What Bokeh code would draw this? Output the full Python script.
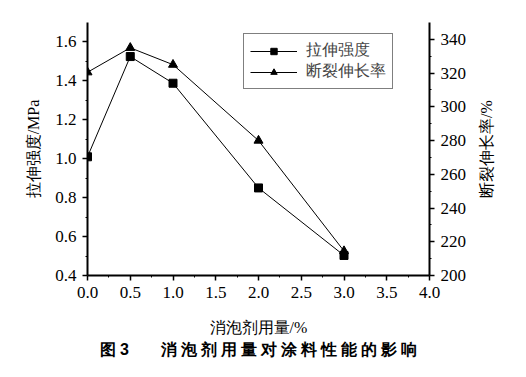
from bokeh.plotting import figure
from bokeh.layouts import row
from bokeh.models import Range1d, LinearAxis, FixedTicker, Title, Legend, LegendItem
from bokeh.embed import file_html
from bokeh.resources import INLINE

dosage = [0.0, 0.5, 1.0, 2.0, 3.0]
tensile = [1.01, 1.525, 1.388, 0.85, 0.503]
elongation = [320.5, 335.0, 325.0, 280.0, 214.5]

x_ticks = [0.0, 0.5, 1.0, 1.5, 2.0, 2.5, 3.0, 3.5, 4.0]
left_ticks = [0.4, 0.6, 0.8, 1.0, 1.2, 1.4, 1.6]
right_ticks = [200, 220, 240, 260, 280, 300, 320, 340]

NUM = "serif"
SERIF = "serif"

p = figure(width=470, height=372, output_backend="svg", toolbar_location=None,
           x_range=Range1d(0, 4.0), y_range=Range1d(0.4, 1.7),
           min_border_left=87, min_border_right=41, min_border_top=22,
           min_border_bottom=97)
p.outline_line_color = None
p.grid.grid_line_color = None
p.background_fill_color = "white"
p.border_fill_color = "white"

p.extra_y_ranges = {"right": Range1d(200, 350)}
raxis = LinearAxis(y_range_name="right")
p.add_layout(raxis, "right")

for ax, ticks in ((p.xaxis[0], x_ticks), (p.yaxis[0], left_ticks), (raxis, right_ticks)):
    ax.ticker = FixedTicker(ticks=ticks,
                            minor_ticks=[t + (ticks[1] - ticks[0]) / 2 for t in ticks[:-1]])
    ax.axis_line_width = 2
    ax.axis_line_color = "black"
    ax.major_tick_out = 5
    ax.major_tick_in = 0
    ax.minor_tick_out = 2
    ax.minor_tick_in = 0
    ax.major_tick_line_width = 1.5
    ax.major_label_text_font = NUM
    ax.major_label_text_font_size = "17px"
    ax.major_label_text_color = "black"
    ax.major_label_standoff = 6
    ax.axis_label_text_font = SERIF
    ax.axis_label_text_font_style = "normal"
    ax.axis_label_text_color = "black"
    ax.axis_label_text_font_size = "16px"

p.xaxis[0].major_label_overrides = {t: f"{t:.1f}" for t in x_ticks}
p.yaxis[0].major_label_overrides = {t: f"{t:.1f}" for t in left_ticks}

p.xaxis[0].axis_label = "消泡剂用量/%"
p.xaxis[0].axis_label_standoff = 18
p.yaxis[0].axis_label = "拉伸强度/MPa"
p.yaxis[0].axis_label_standoff = 10

l1 = p.line(dosage, tensile, line_color="black", line_width=1)
s1 = p.scatter(dosage, tensile, marker="square", size=8, color="black")
l2 = p.line(dosage, elongation, line_color="black", line_width=1, y_range_name="right")
s2 = p.scatter(dosage, elongation, marker="triangle", size=9, color="black", y_range_name="right")

legend = Legend(items=[LegendItem(label="拉伸强度", renderers=[l1, s1]),
                       LegendItem(label="断裂伸长率", renderers=[l2, s2])],
                location=(156, 186))
legend.border_line_color = "black"
legend.border_line_width = 1
legend.label_text_font = SERIF
legend.label_text_font_size = "16px"
legend.glyph_width = 47
legend.glyph_height = 16
legend.label_height = 16
legend.spacing = 0
legend.padding = 6
legend.margin = 0
legend.label_standoff = 9
legend.background_fill_alpha = 1
p.add_layout(legend, "center")

caption_text = "图\u20053\u3000\u3000" + "\u2005".join("消泡剂用量对涂料性能的影响")
cap = Title(text=caption_text, align="center",
            text_font="sans-serif", text_font_size="16px",
            text_font_style="bold", text_color="black", standoff=1)
p.add_layout(cap, "below")

# narrow companion figure that carries the right-hand axis title, reading bottom-to-top
q = figure(width=40, height=372, output_backend="svg", toolbar_location=None,
           x_range=Range1d(0, 1), y_range=Range1d(200, 350),
           min_border_left=30, min_border_right=0, min_border_top=22,
           min_border_bottom=97)
q.outline_line_color = None
q.grid.grid_line_color = None
q.xaxis.visible = False
q.background_fill_color = "white"
q.border_fill_color = "white"
qa = q.yaxis[0]
qa.axis_line_color = None
qa.major_tick_line_color = None
qa.minor_tick_line_color = None
qa.major_label_text_font_size = "0px"
qa.major_label_text_alpha = 0
qa.major_label_standoff = 0
qa.axis_label = "断裂伸长率/%"
qa.axis_label_standoff = 0
qa.axis_label_text_font = SERIF
qa.axis_label_text_font_style = "normal"
qa.axis_label_text_font_size = "16px"
qa.axis_label_text_color = "black"

layout = row(p, q, spacing=0)

open("out.html", "w").write(file_html(layout, INLINE))
